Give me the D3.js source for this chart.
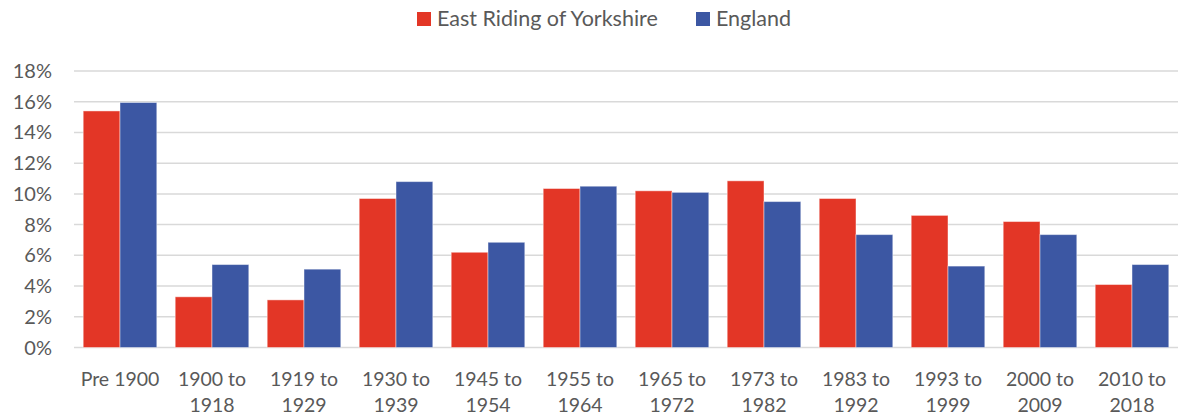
<!DOCTYPE html>
<html>
<head>
<meta charset="utf-8">
<script src="https://cdn.jsdelivr.net/npm/d3@7"></script>
<style>
  body { margin: 0; background: #fff; }
  text { font-family: Lato, "Liberation Sans", sans-serif; fill: #595959; }
</style>
</head>
<body>
<div id="chart"></div>
<script>
// data
var categories = ["Pre 1900", "1900 to 1918", "1919 to 1929", "1930 to 1939", "1945 to 1954",
  "1955 to 1964", "1965 to 1972", "1973 to 1982", "1983 to 1992", "1993 to 1999",
  "2000 to 2009", "2010 to 2018"];
var seriesNames = ["East Riding of Yorkshire", "England"];
var eastRiding = [15.4, 3.3, 3.1, 9.7, 6.2, 10.35, 10.2, 10.85, 9.7, 8.6, 8.2, 4.1];
var england = [15.95, 5.4, 5.1, 10.8, 6.85, 10.5, 10.1, 9.5, 7.35, 5.3, 7.35, 5.4];
var yTicks = [0, 2, 4, 6, 8, 10, 12, 14, 16, 18];
var colors = ["#e33626", "#3c57a3"];

var width = 1178, height = 419;
var margin = {top: 71, right: 0, bottom: 72, left: 74};

var svg = d3.select("#chart").append("svg")
    .attr("width", width)
    .attr("height", height);

var x = d3.scaleBand()
    .domain(categories)
    .range([margin.left, width - margin.right])
    .paddingInner(0.2)
    .paddingOuter(0.1);

var xSub = d3.scaleBand()
    .domain(seriesNames)
    .range([0, x.bandwidth()]);

var y = d3.scaleLinear()
    .domain([0, 18])
    .range([height - margin.bottom + 0.5, margin.top]);

////////// gridlines //////////
svg.append("g")
  .selectAll("line")
  .data(yTicks)
  .enter()
  .append("line")
    .attr("x1", margin.left)
    .attr("x2", width - margin.right)
    .attr("y1", function(d) { return y(d); })
    .attr("y2", function(d) { return y(d); })
    .attr("stroke", "#d9d9d9")
    .attr("stroke-width", 1.5);

svg.append("g")
  .selectAll("text")
  .data(yTicks)
  .enter()
  .append("text")
    .attr("x", 52)
    .attr("y", function(d) { return y(d); })
    .attr("dy", "0.35em")
    .attr("text-anchor", "end")
    .style("font-size", "20px")
    .text(function(d) { return d + "%"; });

////////// bars //////////
var series = [eastRiding, england];
var groups = svg.append("g")
  .selectAll("g")
  .data(categories)
  .enter()
  .append("g")
    .attr("transform", function(d) { return "translate(" + x(d) + ",0)"; });

groups.selectAll("rect")
  .data(function(d, i) {
    return seriesNames.map(function(s, j) { return {name: s, value: series[j][i], idx: j}; });
  })
  .enter()
  .append("rect")
    .attr("x", function(d) { return xSub(d.name); })
    .attr("y", function(d) { return y(d.value); })
    .attr("width", xSub.bandwidth())
    .attr("height", function(d) { return y(0) - y(d.value); })
    .attr("fill", function(d) { return colors[d.idx]; })
    .attr("stroke", "rgba(255,255,255,0.45)")
    .attr("stroke-width", 1);

////////// x labels //////////
var xl = svg.append("g")
  .selectAll("text")
  .data(categories)
  .enter()
  .append("text")
    .attr("text-anchor", "middle")
    .style("font-size", "19.5px");

xl.each(function(d) {
  var t = d3.select(this);
  var cx = x(d) + x.bandwidth() / 2;
  var lines = d === "Pre 1900" ? [d] : [d.slice(0, d.length - 4).trim(), d.slice(-4)];
  lines.forEach(function(l, i) {
    t.append("tspan").attr("x", cx).attr("y", 386 + i * 26).text(l);
  });
});

////////// legend //////////
var legend = svg.append("g");
var legendX = [417, 696];
seriesNames.forEach(function(s, i) {
  legend.append("rect")
    .attr("x", legendX[i])
    .attr("y", 12)
    .attr("width", 14)
    .attr("height", 14)
    .attr("fill", colors[i]);
  legend.append("text")
    .attr("x", legendX[i] + 20)
    .attr("y", 26)
    .style("font-size", "21.5px")
    .text(s);
});
</script>
</body>
</html>
